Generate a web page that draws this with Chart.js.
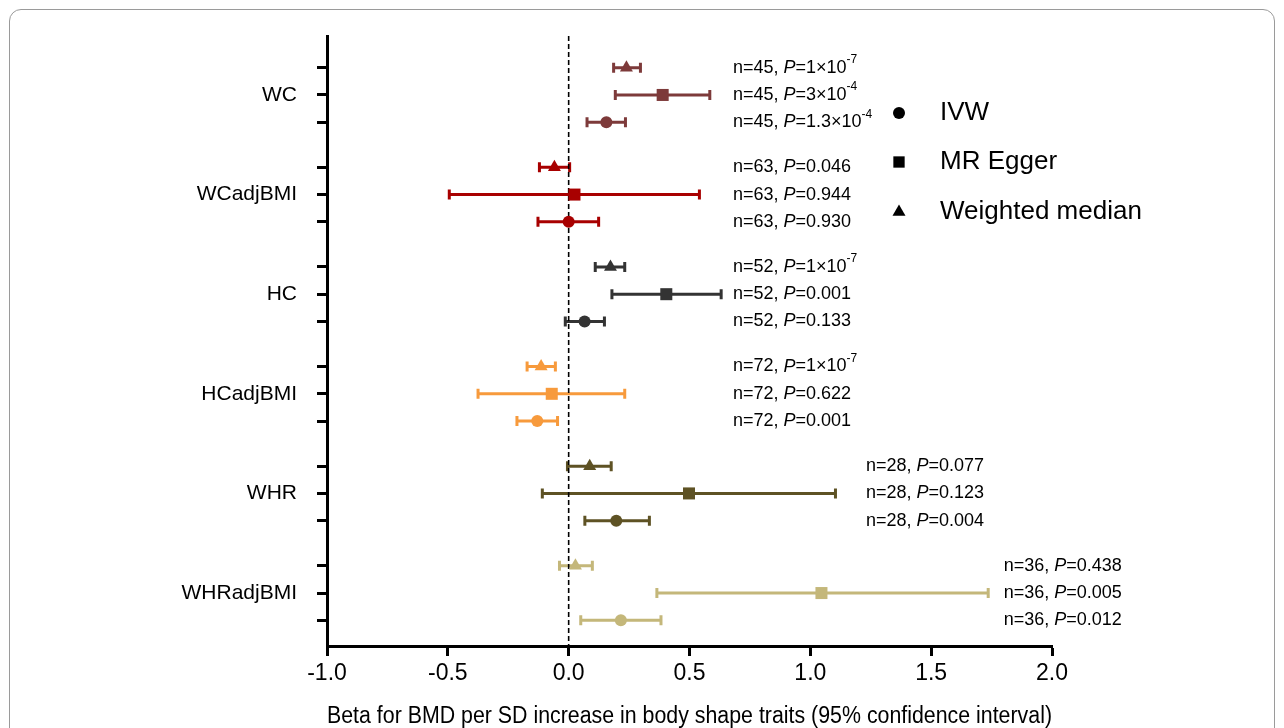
<!DOCTYPE html>
<html>
<head>
<meta charset="utf-8">
<script src="https://cdn.jsdelivr.net/npm/chart.js@4.4.1/dist/chart.umd.min.js"></script>
<style>
  html,body{margin:0;padding:0;background:#fff;}
  #wrap{position:relative;width:1284px;height:728px;overflow:hidden;}
  #frame{position:absolute;left:9px;top:9px;width:1264px;height:760px;border:1px solid #9a9a9a;border-radius:12px;}
  canvas{position:absolute;left:0;top:0;}
</style>
</head>
<body>
<div id="wrap">
  <div id="frame"></div>
  <canvas id="c" width="1284" height="728"></canvas>
</div>
<script>
// forest plot: beta (95% CI) per trait, three MR methods

const TRAITS = ['WC','WCadjBMI','HC','HCadjBMI','WHR','WHRadjBMI'];
const COLORS = ['#7d3a3a','#a80000','#333333','#f79a3c','#5e5224','#c4b77a'];
const METHODS = ['IVW','MR Egger','Weighted median'];
const X_TICKS = [-1.0,-0.5,0.0,0.5,1.0,1.5,2.0];

// beta estimates per trait
const IVW_BETA   = [0.156, 0.000, 0.066, -0.130, 0.197, 0.216];
const IVW_LO     = [0.076, -0.127, -0.014, -0.214, 0.067, 0.050];
const IVW_HI     = [0.235, 0.124, 0.148, -0.046, 0.334, 0.382];
const EGGER_BETA = [0.389, 0.024, 0.404, -0.070, 0.498, 1.046];
const EGGER_LO   = [0.193, -0.494, 0.179, -0.375, -0.109, 0.365];
const EGGER_HI   = [0.584, 0.541, 0.631, 0.232, 1.104, 1.736];
const WM_BETA    = [0.239, -0.059, 0.173, -0.114, 0.087, 0.028];
const WM_LO      = [0.186, -0.121, 0.110, -0.172, -0.005, -0.038];
const WM_HI      = [0.297, 0.004, 0.232, -0.055, 0.176, 0.098];

const N_SNPS = [45, 63, 52, 72, 28, 36];
// p-values as [mantissa, exponent] or plain string
const P_WM    = [['1','-7'], '0.046', ['1','-7'], ['1','-7'], '0.077', '0.438'];
const P_EGGER = [['3','-4'], '0.944', '0.001', '0.622', '0.123', '0.005'];
const P_IVW   = [['1.3','-4'], '0.930', '0.133', '0.001', '0.004', '0.012'];

// annotation column (x in beta units) for each trait
const NOTE_X = [0.68, 0.68, 0.68, 0.68, 1.23, 1.80];

// row layout: group centre + offset (WM above, Egger middle, IVW below)
const GROUP_STEP = 3.65, FIRST = 2.16, Y_MAX = 22.35;
const centre = g => FIRST + GROUP_STEP*g;
const rowY = (g, m) => centre(g) + (m === 0 ? 1 : m === 1 ? 0 : -1);

const ROW_TICKS = [];
TRAITS.forEach((t,g) => { ROW_TICKS.push(centre(g)-1, centre(g), centre(g)+1); });

const FONT = '"Liberation Sans", Arial, sans-serif';

function mkSet(label, beta, lo, hi, mIdx, style, r){
  return {
    label,
    data: beta.map((b,g) => ({x:b, y:rowY(g,mIdx), lo:lo[g], hi:hi[g]})),
    pointStyle: style,
    pointRadius: r,
    pointBackgroundColor: COLORS,
    pointBorderColor: COLORS,
    pointBorderWidth: 0,
    showLine: false
  };
}

const errorBars = {
  id:'errorBars',
  beforeDatasetsDraw(chart){
    const {ctx, scales:{x,y}} = chart;
    ctx.save();
    ctx.lineWidth = 3;
    chart.data.datasets.forEach(ds => {
      ds.data.forEach((p,g) => {
        const py = y.getPixelForValue(p.y);
        const a = x.getPixelForValue(p.lo), b = x.getPixelForValue(p.hi);
        ctx.strokeStyle = COLORS[g];
        ctx.beginPath();
        ctx.moveTo(a,py); ctx.lineTo(b,py);
        ctx.moveTo(a,py-5); ctx.lineTo(a,py+5);
        ctx.moveTo(b,py-5); ctx.lineTo(b,py+5);
        ctx.stroke();
      });
    });
    // null line
    const x0 = x.getPixelForValue(0);
    ctx.strokeStyle = '#000';
    ctx.lineWidth = 1.6;
    ctx.setLineDash([5,3]);
    ctx.beginPath();
    ctx.moveTo(x0, chart.chartArea.top);
    ctx.lineTo(x0, chart.chartArea.bottom);
    ctx.stroke();
    ctx.restore();
  }
};

function drawNote(ctx, xp, yp, n, p){
  ctx.font = '18px ' + FONT;
  ctx.textBaseline = 'middle';
  ctx.textAlign = 'left';
  ctx.fillStyle = '#000';
  let s = `n=${n}, `;
  ctx.fillText(s, xp, yp); xp += ctx.measureText(s).width;
  ctx.font = 'italic 18px ' + FONT;
  ctx.fillText('P', xp, yp); xp += ctx.measureText('P').width;
  ctx.font = '18px ' + FONT;
  if(Array.isArray(p)){
    s = `=${p[0]}\u00d710`;
    ctx.fillText(s, xp, yp); xp += ctx.measureText(s).width;
    ctx.font = '12px ' + FONT;
    ctx.fillText(p[1], xp, yp-8);
  } else {
    ctx.fillText('=' + p, xp, yp);
  }
}

const notes = {
  id:'notes',
  afterDraw(chart){
    const {ctx, scales:{x,y}} = chart;
    ctx.save();
    TRAITS.forEach((t,g) => {
      const xp = x.getPixelForValue(NOTE_X[g]);
      drawNote(ctx, xp, y.getPixelForValue(rowY(g,2)), N_SNPS[g], P_WM[g]);
      drawNote(ctx, xp, y.getPixelForValue(rowY(g,1)), N_SNPS[g], P_EGGER[g]);
      drawNote(ctx, xp, y.getPixelForValue(rowY(g,0)), N_SNPS[g], P_IVW[g]);
    });
    // legend
    const styles = ['circle','rect','triangle'];
    const radii = [6, 8, 7.5];
    const lx = 899, ly = [113, 162, 212];
    METHODS.forEach((m,i) => {
      ctx.fillStyle = '#000';
      ctx.strokeStyle = '#000';
      Chart.helpers.drawPoint(ctx, {pointStyle:styles[i], radius:radii[i], borderWidth:0}, lx, ly[i]);
      ctx.font = '26px ' + FONT;
      ctx.textAlign = 'left';
      ctx.textBaseline = 'middle';
      ctx.fillText(m, 940, ly[i]);
    });
    ctx.restore();
  }
};

new Chart(document.getElementById('c'), {
  type:'scatter',
  data:{
    datasets:[
      mkSet('IVW', IVW_BETA, IVW_LO, IVW_HI, 0, 'circle', 6),
      mkSet('MR Egger', EGGER_BETA, EGGER_LO, EGGER_HI, 1, 'rect', 8.5),
      mkSet('Weighted median', WM_BETA, WM_LO, WM_HI, 2, 'triangle', 7.5)
    ]
  },
  options:{
    responsive:false,
    animation:false,
    layout:{padding:{top:36, right:232, left:0, bottom:0}},
    plugins:{legend:{display:false}, tooltip:{enabled:false}},
    scales:{
      x:{
        type:'linear', min:-1, max:2,
        afterBuildTicks: s => { s.ticks = X_TICKS.map(v => ({value:v})); },
        afterFit: s => { s.height = 82; },
        ticks:{color:'#000', font:{family:FONT, size:23}, padding:4, callback: v => v.toFixed(1)},
        grid:{drawOnChartArea:false, drawTicks:true, tickLength:10, tickWidth:3, tickColor:'#000'},
        border:{color:'#000', width:3},
        title:{display:true, text:'Beta for BMD per SD increase in body shape traits (95% confidence interval)',
               color:'#000', font:{family:FONT, size:23}, padding:{top:18, bottom:-2}}
      },
      y:{
        type:'linear', min:0, max:Y_MAX, reverse:true,
        afterBuildTicks: s => { s.ticks = ROW_TICKS.map(v => ({value:v})); },
        afterFit: s => { s.width = 327; },
        ticks:{color:'#000', font:{family:FONT, size:21}, padding:20, autoSkip:false,
               callback: (v,i) => (i % 3 === 1) ? TRAITS[(i-1)/3] : ''},
        grid:{drawOnChartArea:false, drawTicks:true, tickLength:10, tickWidth:3, tickColor:'#000'},
        border:{color:'#000', width:3}
      }
    }
  },
  plugins:[errorBars, notes]
});
</script>
</body>
</html>
